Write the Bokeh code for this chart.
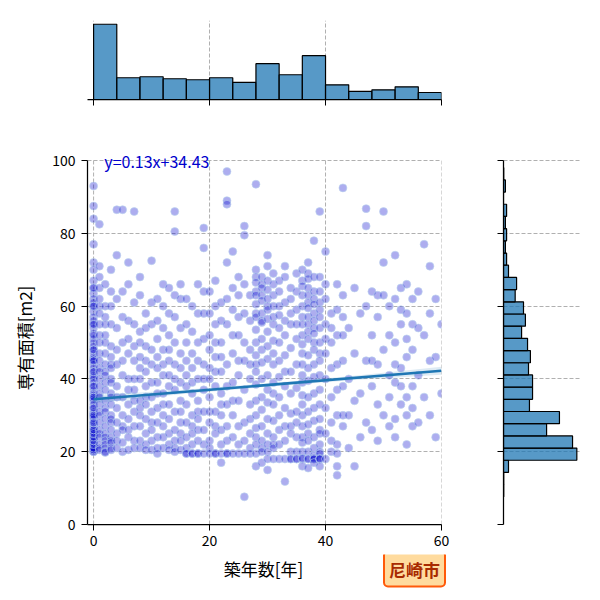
import numpy as np
from bokeh.plotting import figure
from bokeh.layouts import gridplot, column
from bokeh.models import Range1d, FixedTicker, Label, ColumnDataSource
from bokeh.embed import file_html
from bokeh.resources import INLINE

# ---- data ----
# floor area [m2] of each listing, grouped by building age [years]
area_age_00_09 = [
    [93, 87.5, 84, 77, 72, 70, 67, 65, 63.5, 62, 61, 60, 58.5, 57, 56, 55, 54, 52.5, 51, 50,
     49, 48, 47, 46, 45.5, 45, 44, 43, 42, 41, 40.5, 40, 39, 38, 37, 36, 35.5, 35, 34.5, 34,
     33, 32, 31, 30.5, 30, 29.5, 29, 28, 27.5, 27, 26.5, 26, 25.5, 25, 24.5, 24, 23.5, 23,
     22.8, 22.5, 22, 21.5, 21.2, 21, 20.5, 20, 20, 20.5, 21, 22, 23, 24, 25, 26, 28, 30, 32,
     35, 38, 42, 45, 48, 52, 55, 60, 65],
    [82.5, 71, 68, 65, 62, 60, 58, 55, 52, 50, 47, 45, 43, 42, 40, 38, 36, 35, 33, 31, 30,
     28, 26, 25, 24, 22, 21, 20.5],
    [66, 60, 57, 55, 52, 50, 47, 44, 42, 41, 39, 37, 34, 32, 31, 29, 27, 25, 24, 23, 22, 21,
     20, 19.8],
    [70, 64, 60, 55, 49, 46, 44, 43, 40, 39, 36, 35, 33, 30, 29, 28, 26, 24, 23, 22.5, 21, 20.5],
    [86.5, 74, 62, 54, 48, 44, 38, 35, 32, 28, 25, 23, 21],
    [86.5, 64, 57, 50, 45, 41, 35, 30, 27, 26, 22.5, 20],
    [72, 66, 56, 51, 47, 40, 37, 33, 29, 26, 24, 20.5],
    [86, 61, 55, 49, 45, 40, 37, 34, 31, 27, 23, 21],
    [68, 63, 53, 50, 46, 43, 40, 34, 32, 30, 27, 23, 21],
    [58, 54, 49, 45, 42, 38, 35, 33, 29, 25, 22, 20.5],
]
area_age_10_19 = [
    [72.5, 61, 55, 48, 44, 39, 35, 31, 28, 26, 23, 20.5],
    [62, 56, 51, 46, 43, 39, 36, 32, 28, 24, 21, 19.5],
    [66, 60, 54, 48, 44, 41, 36, 33, 30, 27, 24, 21],
    [65, 58, 52, 48, 45, 41, 38, 33, 29, 25, 22, 20.5],
    [86, 80.5, 63, 57, 50, 44, 40, 37, 31, 26, 23, 21, 20],
    [66, 62, 54, 47, 43, 39, 34, 31, 28, 25, 23, 20.5],
    [62, 55, 50, 45, 41, 38, 33, 28, 24, 21, 19.5, 19.5],
    [60, 53, 47, 43, 39, 36, 30, 27, 25, 22, 19.5, 19.5],
    [66, 58, 50, 45, 40, 34, 31, 29, 26, 23, 19.5, 19.5],
    [81.5, 76, 64, 58, 51, 44, 40, 37, 31, 26, 22, 19.5],
]
area_age_20_29 = [
    [64, 58, 52, 48, 43, 40, 35, 31, 28, 23, 21, 19.5],
    [67, 60, 55, 50, 46, 42, 38, 31, 27, 25, 19.5, 19.5],
    [61, 56, 50, 46, 42, 36, 33, 30, 26, 22, 19.5, 17],
    [97, 89, 88, 72, 62, 55, 44, 38, 33, 27, 23, 19.5, 19.5],
    [75, 65, 59, 52, 47, 39, 34, 30, 24, 19.5],
    [68, 63, 57, 52, 45, 41, 34, 27, 22, 19.5],
    [82, 79.5, 66, 58, 50, 45, 37, 28, 23, 19.5, 7.6],
    [63, 56, 48, 44, 40, 33, 29, 25, 21, 19.5],
    [93.5, 70, 68, 66.5, 64, 63, 60.5, 58, 57, 53.5, 50, 46.5, 44, 42, 38.5, 34, 30, 26.5,
     24, 22, 19.5, 16],
    [68, 66, 65, 63, 61.5, 58, 56, 55.5, 51, 48, 44.5, 40, 35, 31.5, 27, 23, 21, 20, 17],
]
area_age_30_39 = [
    [74, 71, 67, 64.5, 62, 60, 59, 56.5, 53, 49, 45.5, 41, 37, 33.5, 29, 25, 22, 20, 18, 15],
    [69, 66, 63, 60, 57, 55, 50.5, 47, 44, 39, 36, 33, 28.5, 24, 22, 21, 18],
    [67, 64, 60, 57.5, 54, 50, 45, 40.5, 35, 30, 26, 22, 18],
    [71, 68, 61, 56, 52, 46.5, 42, 38, 32, 27, 23, 18, 11.8],
    [65, 62, 58, 55, 48.5, 42, 36, 30.5, 27, 25, 20, 18, 18],
    [69, 64, 59, 55, 51, 44, 37.5, 31, 28, 24, 20, 18, 18],
    [70, 67, 65.5, 63, 60, 57, 55, 52, 49.5, 47, 44, 41, 39, 35.5, 33, 30, 27, 24, 22.5, 20,
     18, 18.2, 16],
    [72, 69, 67.5, 65, 63, 61, 59.5, 57, 55, 53, 51, 46.5, 43, 39.5, 35, 31, 27.5, 25, 23,
     20, 18, 18, 15.5],
    [78, 68, 64, 62, 60.5, 58, 56, 54, 52.5, 50, 48, 44, 40.5, 36, 32, 28.5, 24, 21, 19, 18,
     18.3, 18, 17],
    [86, 68, 64, 61, 59, 57, 54, 50, 47, 45, 41, 37, 33, 29, 26, 25, 22, 20, 19.5, 18, 18.2,
     18, 16],
]
area_age_40_49 = [
    [75, 66, 62, 55, 51, 47, 40, 32, 25, 18],
    [58, 54, 50, 43, 35, 28, 23, 20],
    [66, 59, 52, 44, 37, 30, 22, 19.5, 16, 13.5],
    [92.5, 63, 57, 52, 45, 38, 30, 27],
    [54, 40, 30, 21],
    [65, 47, 34, 16],
    [58, 36, 24],
    [86.8, 82, 60, 45, 28],
    [64, 52, 45, 38, 26],
    [63, 57, 44, 33, 23],
]
area_age_50_60 = [
    [86, 72, 63, 48, 30],
    [60, 52, 41, 35, 27],
    [74, 62, 50, 44, 39, 29, 24],
    [65, 59, 55, 43, 38, 33],
    [66, 58, 51, 46, 35, 30, 22],
    [62, 55, 48, 38, 32, 27],
    [64, 54, 41, 28],
    [77, 52, 35],
    [71, 58, 45, 30],
    [62, 46, 24],
    [55, 36],
]

# regression shown in the chart
fit_slope = 0.13
fit_intercept = 34.43
band_x = [0, 15, 30, 45, 60]
band_halfwidth = [1.1, 0.6, 0.45, 0.6, 1.1]

# marginal histograms
age_edges = [0, 4, 8, 12, 16, 20, 24, 28, 32, 36, 40, 44, 48, 52, 56, 60]
age_counts = [450, 130, 136, 124, 118, 130, 102, 214, 148, 262, 88, 48, 58, 76, 42]
area_edges = [7.6, 10.95, 14.3, 17.65, 21.0, 24.35, 27.7, 31.05, 34.4, 37.75, 41.1, 44.45,
              47.8, 51.15, 54.5, 57.85, 61.2, 64.55, 67.9, 71.25, 74.6, 77.95, 81.3, 84.65,
              88.0, 91.35, 94.7, 98.05]
area_counts = [1, 1, 21, 308, 290, 181, 235, 109, 122, 122, 105, 113, 101, 76, 92, 84, 49,
               55, 21, 13, 8, 13, 8, 13, 0, 8, 1]

x_ticks = [0, 20, 40, 60]
y_ticks = [0, 20, 40, 60, 80, 100]

FONT = "Noto Sans CJK JP"
GRID = "#b0b0b0"
C0 = "#1f77b4"

groups = area_age_00_09 + area_age_10_19 + area_age_20_29 + area_age_30_39 + area_age_40_49 + area_age_50_60
ages, areas = [], []
for age, vals in enumerate(groups):
    for v in vals:
        ages.append(age)
        areas.append(v)
src = ColumnDataSource(dict(age=ages, area=areas))

x_rng = Range1d(-1.05, 60)
y_rng = Range1d(0, 102.5)   # a little headroom so the fit text is not cut


def clean(p):
    p.outline_line_color = None
    p.background_fill_color = "white"
    p.border_fill_color = "white"
    for ax in p.axis:
        ax.axis_line_color = "black"
        ax.axis_line_width = 1.25
        ax.major_tick_line_color = "black"
        ax.major_tick_out = 6
        ax.major_tick_in = 0
        ax.minor_tick_line_color = None
    for g in p.grid:
        g.grid_line_color = GRID
        g.grid_line_dash = "4 2"
        g.grid_line_width = 1


def no_labels(ax):
    # ticks only, labels not drawn at all
    ax.major_label_text_font_size = "1px"
    ax.major_label_text_color = None
    ax.major_label_standoff = 0


# ---- main scatter ----
main = figure(width=471, height=435, x_range=x_rng, y_range=y_rng, title=None,
              output_backend="svg", toolbar_location=None,
              min_border_left=87, min_border_right=30, min_border_top=32, min_border_bottom=30)
main.xaxis.ticker = FixedTicker(ticks=x_ticks)
main.yaxis.ticker = FixedTicker(ticks=y_ticks)
main.yaxis.bounds = (0, 100)
clean(main)
main.xgrid.visible = False
# vertical grid lines stop at 100 like the axes box
main.segment(x0=x_ticks, y0=0, x1=x_ticks, y1=100, line_color=GRID, line_dash="4 2", line_width=1)

main.scatter(x="age", y="area", source=src, size=8, fill_color="#0000cd", fill_alpha=0.32,
             line_color="#bcd6ee", line_alpha=0.6, line_width=1)

bx = np.array(band_x, dtype=float)
bh = np.array(band_halfwidth)
by = fit_slope * bx + fit_intercept
main.varea(x=bx, y1=by - bh, y2=by + bh, fill_color=C0, fill_alpha=0.15)
main.line(x=[0, 60], y=[fit_intercept, fit_slope * 60 + fit_intercept], line_color=C0, line_width=2.5)

main.yaxis.axis_label = "専有面積[m2]"
for ax in main.axis:
    ax.major_label_text_font = FONT
    ax.major_label_text_font_size = "14px"
    ax.major_label_text_color = "black"
    ax.major_label_standoff = 6
    ax.axis_label_text_font = FONT
    ax.axis_label_text_font_size = "17px"
    ax.axis_label_text_font_style = "normal"
    ax.axis_label_text_color = "black"
main.xaxis.major_label_standoff = 4
main.yaxis.axis_label_standoff = 12

main.add_layout(Label(x=1.85, y=100, text="y=0.13x+34.43", text_color="#0000cd",
                      text_font=FONT, text_font_size="16px", text_baseline="middle"))

# ---- top marginal: age ----
top = figure(width=471, height=119, x_range=x_rng, y_range=Range1d(0, max(age_counts) * 1.05),
             title=None, output_backend="svg", toolbar_location=None,
             min_border_left=87, min_border_right=30, min_border_top=20, min_border_bottom=20)
top.quad(left=age_edges[:-1], right=age_edges[1:], bottom=0, top=age_counts,
         fill_color=C0, fill_alpha=0.75, line_color="black", line_width=1.2)
top.xaxis.ticker = FixedTicker(ticks=x_ticks)
top.yaxis.visible = False
clean(top)
top.ygrid.visible = False
no_labels(top.xaxis[0])

# ---- right marginal: area ----
right = figure(width=119, height=435, x_range=Range1d(0, max(area_counts) * 1.05), y_range=y_rng,
               title=None, output_backend="svg", toolbar_location=None,
               min_border_left=32, min_border_right=10, min_border_top=32, min_border_bottom=30)
right.quad(left=0, right=area_counts, bottom=area_edges[:-1], top=area_edges[1:],
           fill_color=C0, fill_alpha=0.75, line_color="black", line_width=1.2)
right.yaxis.ticker = FixedTicker(ticks=y_ticks)
right.yaxis.bounds = (0, 100)
right.xaxis.visible = False
clean(right)
right.xgrid.visible = False
no_labels(right.yaxis[0])

grid = gridplot([[top, None], [main, right]], toolbar_location=None)

# ---- strip below: x label and city badge, in page pixels ----
strip = figure(width=590, height=40, x_range=Range1d(0, 590), y_range=Range1d(0, 40),
               title=None, output_backend="svg", toolbar_location=None,
               x_axis_type=None, y_axis_type=None,
               min_border_left=0, min_border_right=0, min_border_top=0, min_border_bottom=0)
strip.outline_line_color = None
strip.grid.visible = False
strip.add_layout(Label(x=263, y=26, text="築年数[年]", text_align="center", text_baseline="middle",
                       text_font=FONT, text_font_size="17px", text_color="black"))
strip.add_layout(Label(x=414, y=25.5, text="尼崎市", text_align="center", text_baseline="middle",
                       text_font=FONT, text_font_style="bold", text_font_size="17px",
                       text_color="#a82a00", background_fill_color="#ffdb9e",
                       border_line_color="#ff5a0a", border_line_width=2,
                       padding=5, border_radius=4))

p = column(grid, strip)

open("out.html", "w").write(file_html(p, INLINE))
